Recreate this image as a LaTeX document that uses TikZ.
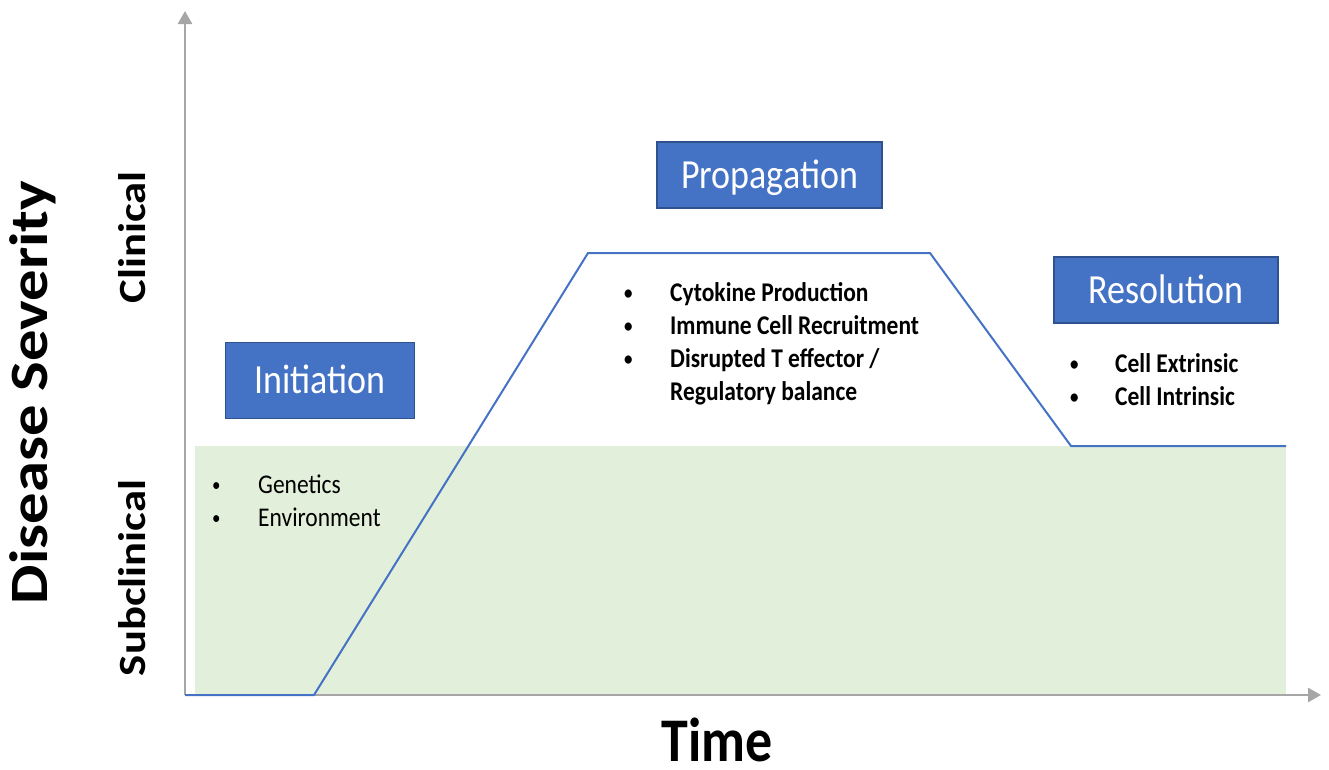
\documentclass[tikz,border=0pt]{standalone}
\usepackage{fontspec}
\setmainfont{Carlito}
\usetikzlibrary{arrows.meta}
\definecolor{axisgray}{HTML}{A6A6A6}
\definecolor{curveblue}{HTML}{4472C4}
\definecolor{boxedge}{HTML}{2F528F}
\definecolor{subgreen}{HTML}{E2EFDA}
\newcommand{\fs}[2]{\fontsize{#1}{#2}\selectfont}
\newcommand{\vst}[1]{\scalebox{1}[1.15]{#1}}
\newcommand{\hst}[1]{\scalebox{1.16}[1]{#1}}
\newcommand{\bul}{\raisebox{1.5pt}{\scalebox{0.72}{\textbullet}}}
\begin{document}
\begin{tikzpicture}[x=1pt,y=-1pt,
  phasebox/.style={draw=boxedge,line width=1.2pt,fill=curveblue,text=white,inner sep=0pt,
    font=\fs{36}{40},text height=26.7pt,text depth=0pt},
  bulletlist/.style={anchor=base west,inner sep=0pt,align=left},
  axisline/.style={draw=axisgray,line width=2.6pt,-{Triangle[length=13pt,width=14pt]}},
  curve/.style={draw=curveblue,line width=2pt,line join=miter},
  vlabel/.style={rotate=90,anchor=base,inner sep=0pt}]
\useasboundingbox (0,0) rectangle (1329,769);
% subclinical zone
\fill[subgreen] (195,446) rectangle (1286,695);
% axes
\coordinate (O) at (185,695);
\coordinate (ytip) at (185,11);
\coordinate (xtip) at (1321,695);
\draw[axisline] (O) -- (ytip);
\draw[axisline] (O) -- (xtip);
% disease curve
\coordinate (c1) at (314,695);
\coordinate (c2) at (588,253);
\coordinate (c3) at (930,253);
\coordinate (c4) at (1071,446);
\coordinate (c5) at (1286,446);
\draw[curve] (O) -- (c1) -- (c2) -- (c3) -- (c4) -- (c5);
% phase boxes
\node[phasebox,minimum width=189pt,minimum height=76pt] (init) at (320,380.5) {\vst{Initiation}};
\node[phasebox,minimum width=225pt,minimum height=66pt] (prop) at (769.5,175) {\vst{Propagation}};
\node[phasebox,minimum width=224pt,minimum height=66pt] (reso) at (1166,290) {\vst{Resolution}};
% bullet lists
\node[bulletlist,font=\fs{23.5}{28.7}] (initlist) at (212,493) {\vst{%
  \begin{tabular}[t]{@{}p{46pt}@{}l@{}}
  \bul & Genetics\\
  \bul & Environment
  \end{tabular}}};
\node[bulletlist,font=\bfseries\fs{23.5}{28.7}] (proplist) at (624,301.5) {\vst{%
  \begin{tabular}[t]{@{}p{46pt}@{}l@{}}
  \bul & Cytokine Production\\
  \bul & Immune Cell Recruitment\\
  \bul & Disrupted T effector /\\
  & Regulatory balance
  \end{tabular}}};
\node[bulletlist,font=\bfseries\fs{23.5}{28.7}] (resolist) at (1070,372) {\vst{%
  \begin{tabular}[t]{@{}p{45pt}@{}l@{}}
  \bul & Cell Extrinsic\\
  \bul & Cell Intrinsic
  \end{tabular}}};
% axis labels
\node[vlabel,font=\bfseries\fs{54}{60}] (ylabel) at (47,392.5) {\hst{Disease Severity}};
\node[vlabel,font=\bfseries\fs{38.5}{44}] (clin) at (145,237.5) {\hst{Clinical}};
\node[vlabel,font=\bfseries\fs{38.5}{44}] (subclin) at (145,578) {\hst{Subclinical}};
\node[font=\bfseries\fs{54}{60},anchor=base,inner sep=0pt] (xlabel) at (717,761) {\vst{Time}};
\end{tikzpicture}
\end{document}
